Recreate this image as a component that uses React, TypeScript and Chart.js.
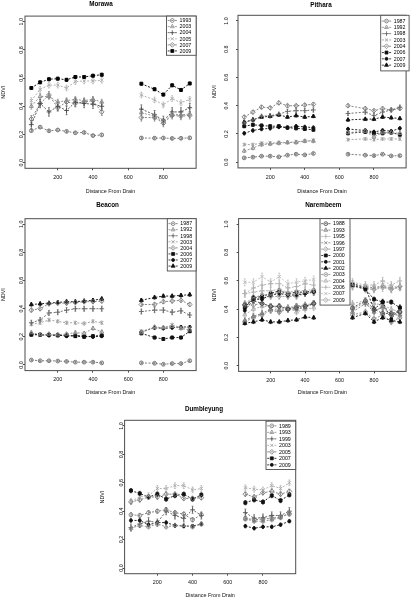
import React, { useEffect, useRef } from "react";
import { Chart, registerables } from "chart.js";
import { drawPoint } from "chart.js/helpers";

Chart.register(...registerables);

const FONT = "'Liberation Sans', Arial, Helvetica, sans-serif";

// ---------------- DATA ----------------
const MORAWA_DIST = [50, 100, 150, 200, 250, 300, 350, 400, 450, 675, 750, 800, 850, 900, 950];
const MORAWA_YEARS = ["1993", "2003", "2004", "2005", "2007", "2009"];
const MORAWA_NDVI = [
  [0.227, 0.252, 0.226, 0.232, 0.222, 0.212, 0.214, 0.192, 0.197, 0.175, 0.174, 0.175, 0.172, 0.173, 0.176],
  [0.40, 0.47, 0.47, 0.43, 0.44, 0.45, 0.44, 0.45, 0.43, 0.355, 0.33, 0.29, 0.345, 0.34, 0.345],
  [0.27, 0.42, 0.36, 0.40, 0.37, 0.43, 0.42, 0.415, 0.40, 0.38, 0.34, 0.30, 0.36, 0.36, 0.39],
  [0.44, 0.52, 0.55, 0.55, 0.53, 0.575, 0.58, 0.58, 0.585, 0.48, 0.445, 0.41, 0.455, 0.425, 0.45],
  [0.31, 0.42, 0.48, 0.39, 0.43, 0.42, 0.43, 0.44, 0.36, 0.32, 0.32, 0.28, 0.335, 0.33, 0.335],
  [0.53, 0.57, 0.592, 0.596, 0.588, 0.608, 0.608, 0.617, 0.624, 0.56, 0.521, 0.483, 0.549, 0.516, 0.562],
];
const MORAWA_SE = [0.008, 0.02, 0.03, 0.02, 0.025, 0.01];

const PITHARA_DIST = [50, 100, 150, 200, 250, 300, 350, 400, 450, 650, 750, 800, 850, 900, 950];
const PITHARA_YEARS = ["1987", "1992", "1998", "2003", "2004", "2006", "2007", "2009"];
const PITHARA_NDVI = [
  [0.031, 0.036, 0.043, 0.043, 0.038, 0.05, 0.057, 0.052, 0.062, 0.057, 0.05, 0.047, 0.057, 0.045, 0.047],
  [0.08, 0.10, 0.125, 0.13, 0.135, 0.14, 0.14, 0.15, 0.15, 0.21, 0.22, 0.18, 0.21, 0.21, 0.205],
  [0.28, 0.30, 0.325, 0.33, 0.34, 0.36, 0.365, 0.365, 0.37, 0.345, 0.355, 0.33, 0.355, 0.37, 0.39],
  [0.125, 0.125, 0.135, 0.135, 0.14, 0.14, 0.145, 0.15, 0.155, 0.16, 0.165, 0.16, 0.165, 0.165, 0.165],
  [0.32, 0.355, 0.39, 0.385, 0.42, 0.40, 0.40, 0.405, 0.41, 0.40, 0.38, 0.365, 0.38, 0.37, 0.38],
  [0.255, 0.265, 0.26, 0.255, 0.255, 0.245, 0.24, 0.235, 0.23, 0.205, 0.215, 0.205, 0.205, 0.21, 0.195],
  [0.205, 0.225, 0.235, 0.24, 0.25, 0.245, 0.255, 0.25, 0.245, 0.235, 0.225, 0.215, 0.225, 0.22, 0.24],
  [0.285, 0.30, 0.32, 0.325, 0.335, 0.32, 0.33, 0.32, 0.325, 0.30, 0.305, 0.305, 0.32, 0.315, 0.31],
];
const PITHARA_SE = [0.006, 0.012, 0.015, 0.01, 0.012, 0.01, 0.012, 0.01];

const BEACON_DIST = [50, 100, 150, 200, 250, 300, 350, 400, 450, 675, 750, 800, 850, 900, 950];
const BEACON_YEARS = ["1987", "1992", "1998", "2003", "2004", "2006", "2007", "2009"];
const BEACON_NDVI = [
  [0.035, 0.03, 0.03, 0.028, 0.025, 0.02, 0.02, 0.02, 0.015, 0.015, 0.012, 0.005, 0.01, 0.01, 0.03],
  [0.23, 0.215, 0.22, 0.215, 0.22, 0.23, 0.225, 0.26, 0.235, 0.23, 0.27, 0.265, 0.275, 0.26, 0.25],
  [0.30, 0.32, 0.37, 0.375, 0.39, 0.40, 0.40, 0.40, 0.40, 0.38, 0.39, 0.39, 0.375, 0.385, 0.355],
  [0.29, 0.30, 0.32, 0.31, 0.30, 0.30, 0.295, 0.31, 0.30, 0.24, 0.265, 0.265, 0.285, 0.265, 0.265],
  [0.39, 0.40, 0.435, 0.44, 0.44, 0.445, 0.45, 0.45, 0.455, 0.43, 0.43, 0.45, 0.455, 0.46, 0.43],
  [0.215, 0.215, 0.215, 0.21, 0.21, 0.205, 0.20, 0.205, 0.21, 0.225, 0.195, 0.185, 0.195, 0.195, 0.24],
  [0.22, 0.215, 0.21, 0.215, 0.205, 0.21, 0.205, 0.20, 0.205, 0.235, 0.265, 0.26, 0.265, 0.27, 0.27],
  [0.43, 0.435, 0.44, 0.445, 0.45, 0.45, 0.455, 0.46, 0.47, 0.46, 0.48, 0.49, 0.49, 0.495, 0.50],
];
const BEACON_SE = [0.006, 0.012, 0.018, 0.012, 0.014, 0.01, 0.01, 0.012];

const NAREMBEEM_DIST = [50, 100, 150, 200, 250, 300, 350, 400, 450, 675, 750, 800, 850, 900, 950];
const NAREMBEEM_YEARS = ["1988", "1993", "1995", "1996", "1997", "2000", "2001", "2002", "2003", "2004", "2006", "2007", "2009"];
const NAREMBEEM_NDVI = [
  [0.43, 0.46, 0.44, 0.42, 0.42, 0.40, 0.41, 0.42, 0.44, 0.41, 0.46, 0.40, 0.37, 0.37, 0.38],
  [0.32, 0.35, 0.37, 0.40, 0.39, 0.40, 0.40, 0.41, 0.44, 0.38, 0.44, 0.38, 0.42, 0.36, 0.36],
  [0.51, 0.52, 0.53, 0.53, 0.54, 0.52, 0.53, 0.53, 0.54, 0.59, 0.57, 0.57, 0.60, 0.57, 0.60],
  [0.44, 0.48, 0.50, 0.50, 0.52, 0.50, 0.51, 0.52, 0.52, 0.57, 0.56, 0.55, 0.56, 0.55, 0.55],
  [0.43, 0.43, 0.44, 0.42, 0.42, 0.41, 0.42, 0.43, 0.44, 0.40, 0.45, 0.39, 0.41, 0.36, 0.38],
  [0.41, 0.48, 0.49, 0.51, 0.53, 0.51, 0.52, 0.52, 0.53, 0.57, 0.54, 0.47, 0.45, 0.45, 0.41],
  [0.39, 0.47, 0.47, 0.50, 0.51, 0.50, 0.50, 0.51, 0.52, 0.58, 0.55, 0.40, 0.45, 0.33, 0.41],
  [0.30, 0.31, 0.325, 0.31, 0.31, 0.32, 0.325, 0.345, 0.34, 0.34, 0.37, 0.31, 0.34, 0.32, 0.31],
  [0.31, 0.34, 0.36, 0.39, 0.38, 0.40, 0.42, 0.42, 0.44, 0.36, 0.38, 0.33, 0.36, 0.31, 0.34],
  [0.36, 0.40, 0.42, 0.42, 0.40, 0.41, 0.38, 0.40, 0.41, 0.44, 0.46, 0.44, 0.43, 0.40, 0.38],
  [0.51, 0.55, 0.57, 0.58, 0.58, 0.55, 0.56, 0.58, 0.57, 0.56, 0.54, 0.54, 0.55, 0.54, 0.56],
  [0.59, 0.59, 0.63, 0.59, 0.63, 0.58, 0.59, 0.60, 0.61, 0.58, 0.56, 0.55, 0.57, 0.56, 0.56],
  [0.43, 0.47, 0.48, 0.49, 0.49, 0.49, 0.49, 0.51, 0.52, 0.56, 0.55, 0.54, 0.56, 0.54, 0.56],
];
const NAREMBEEM_SE = [0.02, 0.02, 0.025, 0.02, 0.02, 0.015, 0.02, 0.012, 0.02, 0.02, 0.025, 0.025, 0.02];

const DUMBLEYUNG_DIST = [50, 100, 150, 200, 250, 300, 350, 400, 450, 700, 750, 800, 850, 900, 950];
const DUMBLEYUNG_YEARS = ["1989", "1993", "1999", "2003", "2005", "2007", "2009"];
const DUMBLEYUNG_NDVI = [
  [0.375, 0.37, 0.39, 0.40, 0.41, 0.39, 0.38, 0.34, 0.375, 0.35, 0.34, 0.345, 0.35, 0.36, 0.38],
  [0.28, 0.30, 0.29, 0.31, 0.29, 0.30, 0.30, 0.29, 0.31, 0.345, 0.33, 0.33, 0.34, 0.355, 0.39],
  [0.285, 0.31, 0.33, 0.32, 0.40, 0.37, 0.35, 0.41, 0.37, 0.39, 0.35, 0.355, 0.37, 0.37, 0.40],
  [0.47, 0.50, 0.51, 0.56, 0.56, 0.58, 0.58, 0.55, 0.56, 0.565, 0.555, 0.55, 0.58, 0.56, 0.60],
  [0.465, 0.48, 0.50, 0.50, 0.52, 0.52, 0.49, 0.49, 0.495, 0.52, 0.50, 0.53, 0.54, 0.52, 0.54],
  [0.545, 0.525, 0.50, 0.52, 0.485, 0.51, 0.52, 0.485, 0.515, 0.46, 0.48, 0.465, 0.51, 0.475, 0.515],
  [0.335, 0.335, 0.305, 0.32, 0.32, 0.30, 0.295, 0.295, 0.31, 0.295, 0.28, 0.29, 0.29, 0.305, 0.33],
];
const DUMBLEYUNG_SE = [0.015, 0.015, 0.025, 0.02, 0.015, 0.015, 0.012];

const X_TICKS = [200, 400, 600, 800];
const Y_TICKS = [0, 0.2, 0.4, 0.6, 0.8, 1.0];

// symbol codes (R pch-like)
const MARKS_8 = ["o", "^", "+", "x", "d", "s", "c", "A"];
const MARKS_13 = ["o", "^", "+", "x", "d", "s", "c", "A", "o", "^", "+", "x", "d"];

// ---------------- STYLE HELPERS ----------------
const MARK_STYLE: Record<string, { style: string; r: number; filled: boolean }> = {
  o: { style: "circle", r: 1.9, filled: false },
  "^": { style: "triangle", r: 2.3, filled: false },
  "+": { style: "cross", r: 2.4, filled: false },
  x: { style: "crossRot", r: 2.3, filled: false },
  d: { style: "rectRot", r: 2.4, filled: false },
  s: { style: "rect", r: 2.1, filled: true },
  c: { style: "circle", r: 1.5, filled: true },
  A: { style: "triangle", r: 2.3, filled: true },
};

type Panel = {
  title: string;
  dist: number[];
  years: string[];
  ndvi: number[][];
  se: number[];
  marks: string[];
  colors: string[];
  canvas: [number, number, number, number];
  area: [number, number, number, number];
  titleXY: [number, number];
  yTitleX: number;
  yTickX: number;
  xTickDy: number;
  xTitleY: number;
  legend: { left: number; top: number; width: number; rowH: number; pad: number };
};

const PANELS: Panel[] = [
  {
    title: "Morawa",
    dist: MORAWA_DIST,
    years: MORAWA_YEARS,
    ndvi: MORAWA_NDVI,
    se: MORAWA_SE,
    marks: MARKS_8,
    colors: ["#6e6e6e", "#8a8a8a", "#4a4a4a", "#a9a9a9", "#777777", "#000000"],
    canvas: [0, 0, 205, 200],
    area: [25, 16.1, 196.1, 168.3],
    titleXY: [101, 4.5],
    yTitleX: 3.2,
    yTickX: 21.2,
    xTickDy: 9,
    xTitleY: 191.7,
    legend: { left: 166.5, top: 16.1, width: 29.6, rowH: 6.1, pad: 1.3 },
  },
  {
    title: "Pithara",
    dist: PITHARA_DIST,
    years: PITHARA_YEARS,
    ndvi: PITHARA_NDVI,
    se: PITHARA_SE,
    marks: MARKS_8,
    colors: ["#6e6e6e", "#8a8a8a", "#666666", "#9a9a9a", "#7a7a7a", "#111111", "#111111", "#111111"],
    canvas: [205, 0, 206, 200],
    area: [238, 15.3, 409.1, 167.9],
    titleXY: [321, 4.8],
    yTitleX: 214.3,
    yTickX: 226.7,
    xTickDy: 9.3,
    xTitleY: 191.7,
    legend: { left: 380.7, top: 15.3, width: 28.4, rowH: 6.3, pad: 2.6 },
  },
  {
    title: "Beacon",
    dist: BEACON_DIST,
    years: BEACON_YEARS,
    ndvi: BEACON_NDVI,
    se: BEACON_SE,
    marks: MARKS_8,
    colors: ["#6e6e6e", "#8a8a8a", "#666666", "#9a9a9a", "#7a7a7a", "#111111", "#111111", "#111111"],
    canvas: [0, 200, 205, 200],
    area: [25, 218.7, 196.1, 370.6],
    titleXY: [107.5, 205.7],
    yTitleX: 3.2,
    yTickX: 21.2,
    xTickDy: 9.4,
    xTitleY: 392.7,
    legend: { left: 167.3, top: 218.7, width: 28.8, rowH: 6.06, pad: 1.9 },
  },
  {
    title: "Narembeem",
    dist: NAREMBEEM_DIST,
    years: NAREMBEEM_YEARS,
    ndvi: NAREMBEEM_NDVI,
    se: NAREMBEEM_SE,
    marks: MARKS_13,
    colors: ["#444444", "#777777", "#b0b0b0", "#888888", "#8a8a8a", "#111111", "#111111", "#111111", "#8a8a8a", "#aaaaaa", "#b0b0b0", "#bdbdbd", "#999999"],
    canvas: [205, 200, 206, 200],
    area: [238.6, 218.6, 409.7, 371.4],
    titleXY: [323.3, 205.7],
    yTitleX: 214.3,
    yTickX: 226.7,
    xTickDy: 9.4,
    xTitleY: 392.7,
    legend: { left: 320, top: 218.6, width: 30, rowH: 6.36, pad: 1.9 },
  },
  {
    title: "Dumbleyung",
    dist: DUMBLEYUNG_DIST,
    years: DUMBLEYUNG_YEARS,
    ndvi: DUMBLEYUNG_NDVI,
    se: DUMBLEYUNG_SE,
    marks: MARKS_8,
    colors: ["#777777", "#8a8a8a", "#555555", "#aaaaaa", "#777777", "#111111", "#111111"],
    canvas: [100, 400, 205, 199],
    area: [124.6, 420.3, 295.7, 573.7],
    titleXY: [204, 409],
    yTitleX: 103,
    yTickX: 121.4,
    xTickDy: 8.5,
    xTitleY: 595.5,
    legend: { left: 266, top: 421.2, width: 29.7, rowH: 6.5, pad: 1.4 },
  },
];

const TICK_SIZE = 5.4;
const AXIS_TITLE_SIZE = 5.4;
const LEGEND_SIZE = 5.3;
const MAIN_SIZE = 6.3;
const LH = 1.2;
const TICK_LEN = 2;
const DASH = [2, 1.6];

function measure(text: string, size: number) {
  const c = document.createElement("canvas");
  const ctx = c.getContext("2d")!;
  ctx.font = `${size}px ${FONT}`;
  return ctx.measureText(text).width;
}

function buildConfig(p: Panel): any {
  const [cl, ct, cw, ch] = p.canvas;
  const [al, at, ar, ab] = p.area;
  const yw = al - cl;
  const xh = ct + ch - ab;
  const widest = measure("0.0", TICK_SIZE);
  const yTickPad = al - p.yTickX - TICK_LEN - widest / 2;
  const xTickPad = p.xTickDy - TICK_LEN - (TICK_SIZE * LH) / 2;
  const xTitlePad = ct + ch - p.xTitleY - (AXIS_TITLE_SIZE * LH) / 2;
  const yTitlePad = p.yTitleX - cl - (AXIS_TITLE_SIZE * LH) / 2;

  const datasets = p.years.map((yr, si) => {
    const m = MARK_STYLE[p.marks[si]];
    const col = p.colors[si];
    const pts: { x: number; y: number | null }[] = [];
    p.dist.forEach((x, i) => {
      if (i > 0 && x - p.dist[i - 1] > 100) pts.push({ x: (x + p.dist[i - 1]) / 2, y: null });
      pts.push({ x, y: p.ndvi[si][i] });
    });
    return {
      label: yr,
      data: pts,
      borderColor: col,
      backgroundColor: m.filled ? col : "rgba(0,0,0,0)",
      borderWidth: 0.9,
      borderDash: DASH,
      pointStyle: m.style,
      pointRadius: m.r,
      pointBorderWidth: 0.9,
      pointBorderColor: col,
      pointBackgroundColor: m.filled ? col : "rgba(0,0,0,0)",
      spanGaps: false,
      tension: 0,
      fill: false,
    };
  });

  const decor = {
    id: "rDecor",
    beforeDatasetsDraw(chart: any) {
      // error whiskers
      const { ctx } = chart;
      const ys = chart.scales.y;
      ctx.save();
      ctx.setLineDash([]);
      ctx.lineWidth = 0.7;
      chart.data.datasets.forEach((ds: any, si: number) => {
        const meta = chart.getDatasetMeta(si);
        ctx.strokeStyle = ds.borderColor;
        ds.data.forEach((pt: any, i: number) => {
          if (pt.y == null) return;
          const el = meta.data[i];
          const top = ys.getPixelForValue(pt.y + p.se[si]);
          const bot = ys.getPixelForValue(pt.y - p.se[si]);
          ctx.beginPath();
          ctx.moveTo(el.x, top);
          ctx.lineTo(el.x, bot);
          ctx.moveTo(el.x - 0.9, top);
          ctx.lineTo(el.x + 0.9, top);
          ctx.moveTo(el.x - 0.9, bot);
          ctx.lineTo(el.x + 0.9, bot);
          ctx.stroke();
        });
      });
      ctx.restore();
    },
    afterDatasetsDraw(chart: any) {
      const { ctx, chartArea: a } = chart;
      ctx.save();
      // plot box
      ctx.strokeStyle = "#4d4d4d";
      ctx.lineWidth = 1;
      ctx.setLineDash([]);
      ctx.strokeRect(a.left, a.top, a.right - a.left, a.bottom - a.top);

      // legend
      const lg = p.legend;
      const lx = lg.left - cl;
      const ly = lg.top - ct;
      const lhgt = p.years.length * lg.rowH + 2 * lg.pad;
      ctx.fillStyle = "#ffffff";
      ctx.fillRect(lx, ly, lg.width, lhgt);
      ctx.strokeStyle = "#4d4d4d";
      ctx.lineWidth = 0.9;
      ctx.strokeRect(lx, ly, lg.width, lhgt);
      ctx.font = `${LEGEND_SIZE}px ${FONT}`;
      ctx.textAlign = "left";
      ctx.textBaseline = "middle";
      p.years.forEach((yr, si) => {
        const ds = datasets[si];
        const cy = ly + lg.pad + (si + 0.5) * lg.rowH;
        ctx.strokeStyle = ds.borderColor;
        ctx.lineWidth = 0.8;
        ctx.setLineDash(DASH);
        ctx.beginPath();
        ctx.moveTo(lx + 1.2, cy);
        ctx.lineTo(lx + 10.5, cy);
        ctx.stroke();
        ctx.setLineDash([]);
        ctx.fillStyle = ds.pointBackgroundColor;
        drawPoint(ctx, { pointStyle: ds.pointStyle, radius: ds.pointRadius, borderWidth: 0.8, rotation: 0 } as any, lx + 5.8, cy);
        ctx.fillStyle = "#000";
        ctx.fillText(yr, lx + 13, cy + 0.3);
      });

      // main title
      ctx.fillStyle = "#000";
      ctx.font = `bold ${MAIN_SIZE}px ${FONT}`;
      ctx.textAlign = "center";
      ctx.textBaseline = "middle";
      ctx.fillText(p.title, p.titleXY[0] - cl, p.titleXY[1] - ct);
      ctx.restore();
    },
  };

  return {
    type: "line",
    data: { datasets },
    options: {
      responsive: false,
      animation: false,
      devicePixelRatio: 1,
      events: [],
      layout: { padding: { left: 0, top: at - ct, right: cl + cw - ar, bottom: 0 } },
      plugins: {
        legend: { display: false },
        tooltip: { enabled: false },
        title: { display: false },
      },
      scales: {
        x: {
          type: "linear",
          min: 14,
          max: 986,
          afterBuildTicks: (s: any) => {
            s.ticks = X_TICKS.map((v) => ({ value: v }));
          },
          afterFit: (s: any) => {
            s.height = xh;
          },
          ticks: {
            autoSkip: false,
            maxRotation: 0,
            minRotation: 0,
            padding: xTickPad,
            color: "#111",
            font: { size: TICK_SIZE, family: FONT },
            callback: (v: any) => String(v),
          },
          grid: { display: true, drawOnChartArea: false, drawTicks: true, tickLength: TICK_LEN, color: "#222", lineWidth: 0.8 },
          border: { display: false },
          title: {
            display: true,
            text: "Distance From Drain",
            color: "#111",
            font: { size: AXIS_TITLE_SIZE, family: FONT },
            padding: { top: 0, bottom: xTitlePad },
          },
        },
        y: {
          type: "linear",
          min: -0.04,
          max: 1.04,
          afterBuildTicks: (s: any) => {
            s.ticks = Y_TICKS.map((v) => ({ value: v }));
          },
          afterFit: (s: any) => {
            s.width = yw;
          },
          ticks: {
            autoSkip: false,
            minRotation: 90,
            maxRotation: 90,
            crossAlign: "center",
            padding: yTickPad,
            color: "#111",
            font: { size: TICK_SIZE, family: FONT },
            callback: (v: any) => Number(v).toFixed(1),
          },
          grid: { display: true, drawOnChartArea: false, drawTicks: true, tickLength: TICK_LEN, color: "#222", lineWidth: 0.8 },
          border: { display: false },
          title: {
            display: true,
            text: "NDVI",
            color: "#111",
            font: { size: AXIS_TITLE_SIZE, family: FONT },
            padding: { top: yTitlePad, bottom: 0 },
          },
        },
      },
    },
    plugins: [decor],
  };
}

function PanelChart({ p }: { p: Panel }) {
  const ref = useRef<HTMLCanvasElement>(null);
  useEffect(() => {
    const chart = new Chart(ref.current as HTMLCanvasElement, buildConfig(p));
    return () => chart.destroy();
  }, []);
  const [l, t, w, h] = p.canvas;
  return (
    <canvas
      ref={ref}
      width={w}
      height={h}
      style={{ position: "absolute", left: l, top: t, width: w, height: h }}
    />
  );
}

export default function App() {
  return (
    <div style={{ position: "absolute", left: 0, top: 0, width: 411, height: 599, background: "#fff", overflow: "hidden" }}>
      {PANELS.map((p) => (
        <PanelChart key={p.title} p={p} />
      ))}
    </div>
  );
}
